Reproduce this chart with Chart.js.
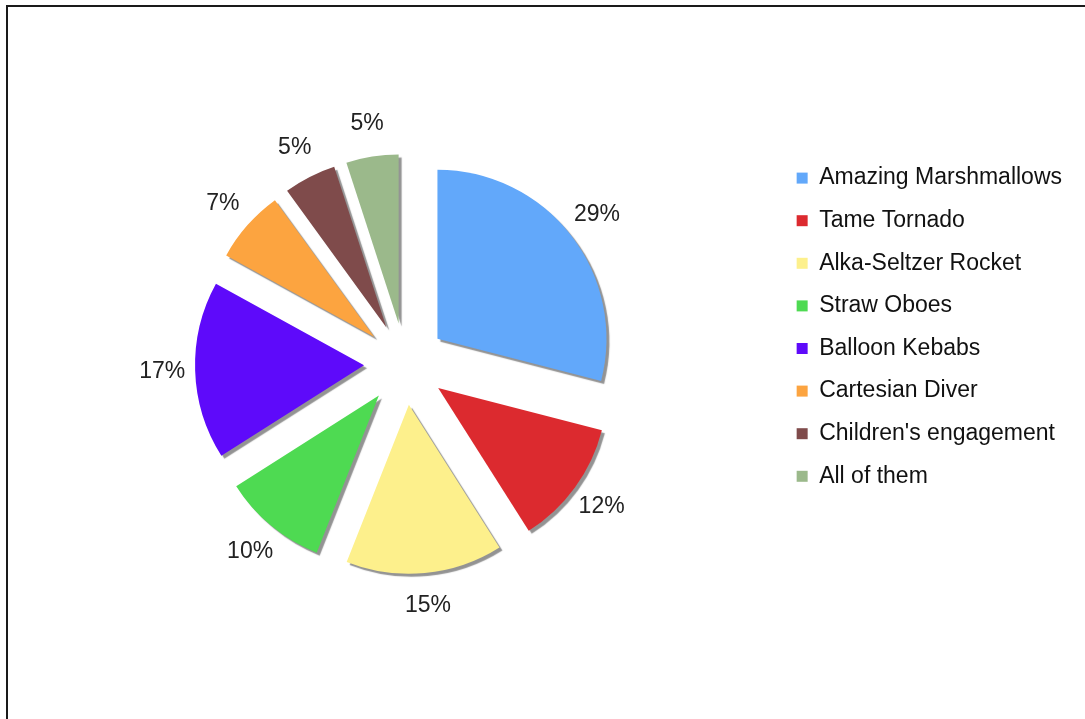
<!DOCTYPE html>
<html>
<head>
<meta charset="utf-8">
<title>Favourite activities</title>
<script src="https://cdn.jsdelivr.net/npm/chart.js"></script>
<style>
  html, body { margin: 0; padding: 0; background: #fff; overflow: hidden; }
  #wrap { position: relative; width: 1085px; height: 719px; }
  #frame {
    position: absolute; left: 6px; top: 5px; width: 1200px; height: 800px;
    border-top: 2px solid #1a1a1a; border-left: 2px solid #1a1a1a;
    pointer-events: none;
  }
  canvas { position: absolute; left: 0; top: 0; }
</style>
</head>
<body>
<div id="wrap">
  <canvas id="activities" width="1085" height="719"></canvas>
  <div id="frame"></div>
</div>
<script>
var categories = [
  'Amazing Marshmallows',
  'Tame Tornado',
  'Alka-Seltzer Rocket',
  'Straw Oboes',
  'Balloon Kebabs',
  'Cartesian Diver',
  "Children's engagement",
  'All of them'
];
var shares = [29, 12, 15, 10, 17, 7, 5, 5];
var sliceColors = ['#62a8fa', '#dc2a2f', '#fdf08c', '#4eda52', '#5e0afa', '#fca440', '#7f4b4b', '#9bb98b'];

var FONT = '"Liberation Sans", Arial, Helvetica, sans-serif';
var EXPLODE = 41;      // how far each slice is pulled out from the centre
var LABEL_DIST = 243;  // distance of the percentage labels from the centre

// draw every slice pulled out along its mid angle, with a grey drop shadow
var explodedSlices = {
  id: 'explodedSlices',
  beforeDatasetDraw: function(chart, args){
    var ctx = chart.ctx;
    args.meta.data.forEach(function(arc){
      var mid = (arc.startAngle + arc.endAngle) / 2;
      ctx.save();
      ctx.translate(Math.cos(mid) * EXPLODE, Math.sin(mid) * EXPLODE);
      ctx.shadowColor = 'rgba(120,120,120,0.8)';
      ctx.shadowOffsetX = 3;
      ctx.shadowOffsetY = 3;
      ctx.shadowBlur = 1;
      arc.draw(ctx);
      ctx.restore();
    });
    return false;
  }
};

// percentage labels outside the slices
var percentLabels = {
  id: 'percentLabels',
  afterDatasetsDraw: function(chart){
    var ctx = chart.ctx;
    var meta = chart.getDatasetMeta(0);
    ctx.save();
    ctx.font = '23px ' + FONT;
    ctx.fillStyle = '#222';
    ctx.textAlign = 'center';
    ctx.textBaseline = 'middle';
    meta.data.forEach(function(arc, i){
      var mid = (arc.startAngle + arc.endAngle) / 2;
      ctx.fillText(shares[i] + '%', arc.x + Math.cos(mid) * LABEL_DIST, arc.y + Math.sin(mid) * LABEL_DIST);
    });
    ctx.restore();
  }
};

var ctx = document.getElementById('activities');
var chart = new Chart(ctx, {
  type: 'pie',
  data: {
    labels: categories,
    datasets: [{
      data: shares,
      backgroundColor: sliceColors,
      borderWidth: 0,
      radius: 169
    }]
  },
  options: {
    responsive: false,
    animation: false,
    devicePixelRatio: 1,
    events: [],
    layout: {
      padding: { left: 33, right: 13, top: 147, bottom: 138 }
    },
    plugins: {
      tooltip: { enabled: false },
      legend: {
        position: 'right',
        align: 'start',
        labels: {
          boxWidth: 11,
          boxHeight: 11,
          padding: 19.6,
          color: '#111',
          font: { size: 23, family: FONT }
        }
      }
    }
  },
  plugins: [explodedSlices, percentLabels]
});
</script>
</body>
</html>
